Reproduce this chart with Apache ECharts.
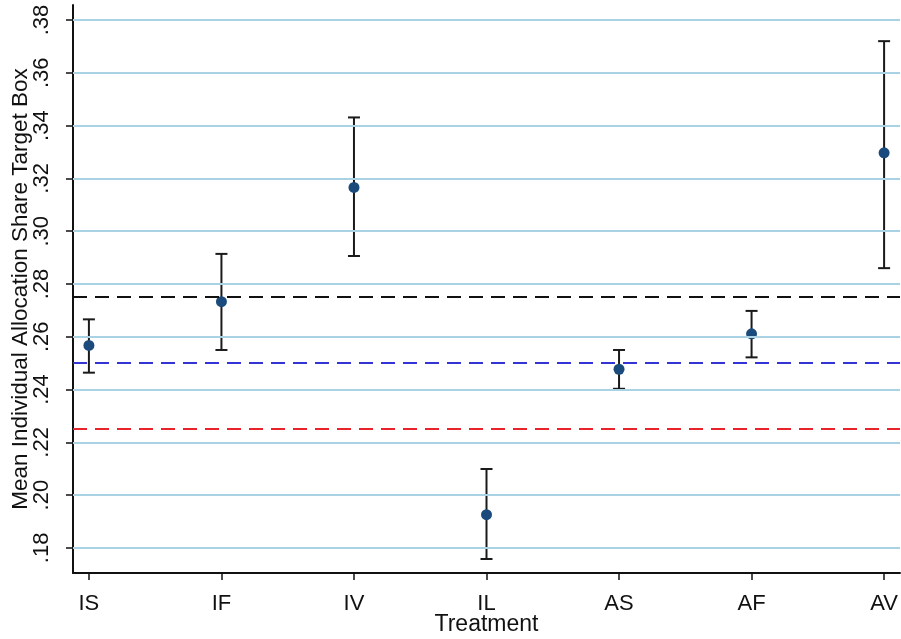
<!DOCTYPE html>
<html>
<head>
<meta charset="utf-8">
<script src="https://cdn.jsdelivr.net/npm/echarts@6/dist/echarts.min.js"></script>
<style>
html,body{margin:0;padding:0;background:#fff;}
#chart{width:901px;height:639px;}
</style>
</head>
<body>
<div id="chart"></div>
<script>
const categories = ['IS', 'IF', 'IV', 'IL', 'AS', 'AF', 'AV'];
const means = [0.2567, 0.2733, 0.3166, 0.1926, 0.2477, 0.2611, 0.3297];
const lower = [0.2464, 0.2550, 0.2906, 0.1758, 0.2403, 0.2522, 0.2860];
const upper = [0.2666, 0.2914, 0.3431, 0.2099, 0.2550, 0.2698, 0.3720];
const yTicks = [0.18, 0.20, 0.22, 0.24, 0.26, 0.28, 0.30, 0.32, 0.34, 0.36, 0.38];
const refLines = [
  { value: 0.275, color: '#111111' },
  { value: 0.25, color: '#3333d6' },
  { value: 0.225, color: '#e8232b' }
];

const xIdx = categories.map((c, i) => i);
const FONT = 'Liberation Sans, Arial, sans-serif';
const chart = echarts.init(document.getElementById('chart'));

const errData = categories.map((c, i) => [i, lower[i], upper[i]]);
const ptData = categories.map((c, i) => [i, means[i]]);

chart.setOption({
  animation: false,
  grid: { left: 73, right: 1, top: 5, bottom: 66, containLabel: false, outerBoundsMode: 'none' },
  xAxis: {
    type: 'value',
    min: -0.12, max: 6.12,
    name: 'Treatment',
    nameLocation: 'middle',
    nameGap: 40,
    nameMoveOverlap: false,
    nameTextStyle: { fontSize: 23, color: '#111', fontFamily: FONT },
    axisLine: { show: true, onZero: false, lineStyle: { color: '#111', width: 2 } },
    axisTick: { show: true, length: 7, customValues: xIdx, lineStyle: { color: '#111', width: 1.5 } },
    axisLabel: {
      customValues: xIdx, margin: 20, fontSize: 22, color: '#111', fontFamily: FONT,
      formatter: v => categories[Math.round(v)]
    },
    splitLine: { show: false }
  },
  yAxis: {
    type: 'value',
    min: 0.1705, max: 0.3857,
    name: 'Mean Individual Allocation Share Target Box',
    nameLocation: 'middle',
    nameGap: 41,
    nameMoveOverlap: false,
    nameTextStyle: { fontSize: 22.5, color: '#111', fontFamily: FONT },
    axisLine: { show: true, onZero: false, lineStyle: { color: '#111', width: 2 } },
    axisTick: { show: true, length: 7, customValues: yTicks, lineStyle: { color: '#111', width: 1.5 } },
    axisLabel: {
      customValues: yTicks, rotate: 90, margin: 20, fontSize: 22, color: '#111', fontFamily: FONT,
      formatter: v => v.toFixed(2).replace(/^0/, '')
    },
    splitLine: { show: false }
  },
  series: [
    {
      type: 'line', data: [], silent: true, z: 1,
      markLine: {
        silent: true, symbol: 'none', label: { show: false }, precision: 4,
        lineStyle: { color: '#a9d3e4', width: 2, type: 'solid' },
        data: yTicks.map(v => ({ yAxis: v }))
      }
    },
    {
      type: 'line', data: [], silent: true, z: 2,
      markLine: {
        silent: true, symbol: 'none', label: { show: false }, precision: 4,
        data: refLines.map(r => ({ yAxis: r.value, lineStyle: { color: r.color, width: 2.2, type: [14, 8] } }))
      }
    },
    {
      type: 'custom', z: 3,
      data: errData,
      renderItem: function (params, api) {
        const x = api.value(0);
        const lo = api.coord([x, api.value(1)]);
        const hi = api.coord([x, api.value(2)]);
        const hw = 6;
        const st = { stroke: '#1a1a1a', lineWidth: 2 };
        return {
          type: 'group',
          children: [
            { type: 'line', shape: { x1: lo[0], y1: lo[1], x2: hi[0], y2: hi[1] }, style: st },
            { type: 'line', shape: { x1: lo[0] - hw, y1: lo[1], x2: lo[0] + hw, y2: lo[1] }, style: st },
            { type: 'line', shape: { x1: hi[0] - hw, y1: hi[1], x2: hi[0] + hw, y2: hi[1] }, style: st }
          ]
        };
      }
    },
    {
      type: 'scatter', z: 4,
      data: ptData,
      symbol: 'circle', symbolSize: 11,
      itemStyle: { color: '#1b4b7c', opacity: 1 }
    }
  ]
});
</script>
</body>
</html>
